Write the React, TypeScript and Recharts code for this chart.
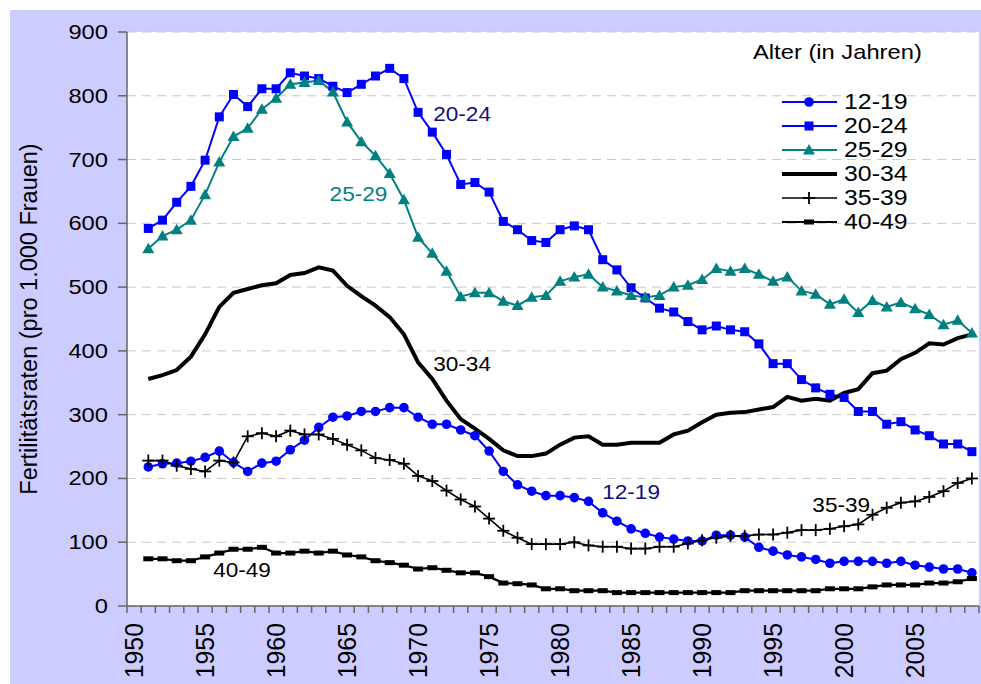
import React from "react";
import { LineChart, Line, XAxis, YAxis, CartesianGrid, ReferenceDot } from "recharts";

const FONT = '"Liberation Sans", Arial, sans-serif';

const YEARS = [
  1951, 1952, 1953, 1954, 1955, 1956, 1957, 1958, 1959, 1960,
  1961, 1962, 1963, 1964, 1965, 1966, 1967, 1968, 1969, 1970,
  1971, 1972, 1973, 1974, 1975, 1976, 1977, 1978, 1979, 1980,
  1981, 1982, 1983, 1984, 1985, 1986, 1987, 1988, 1989, 1990,
  1991, 1992, 1993, 1994, 1995, 1996, 1997, 1998, 1999, 2000,
  2001, 2002, 2003, 2004, 2005, 2006, 2007, 2008, 2009,
];

const AGE_12_19 = [
  218, 223, 224, 227, 233, 243, 225, 211, 224, 227,
  245, 260, 280, 296, 298, 305, 305, 311, 311, 296,
  285, 285, 276, 267, 243, 211, 190, 180, 173, 173,
  170, 164, 146, 133, 121, 114, 108, 105, 102, 102,
  111, 111, 108, 92, 86, 80, 77, 73, 67, 70,
  70, 70, 67, 70, 64, 61, 58, 58, 52,
];

const AGE_20_24 = [
  592, 605, 633, 658, 699, 767, 802, 783, 811, 811,
  836, 831, 827, 815, 805, 818, 831, 843, 827, 774,
  743, 708, 661, 664, 649, 603, 590, 573, 570, 590,
  596, 590, 543, 527, 499, 483, 467, 461, 446, 433,
  439, 433, 430, 411, 380, 380, 355, 342, 332, 327,
  305, 305, 285, 289, 276, 267, 254, 254, 242,
];

const AGE_25_29 = [
  560, 580, 590, 605, 645, 696, 736, 749, 779, 796,
  818, 821, 824, 806, 759, 728, 706, 678, 637, 578,
  553, 525, 485, 491, 491, 478, 471, 484, 487, 509,
  516, 520, 500, 494, 487, 484, 487, 500, 503, 512,
  529, 525, 529, 520, 509, 516, 494, 489, 473, 481,
  460, 479, 469, 476, 466, 457, 441, 448, 428,
];

const AGE_30_34 = [
  356, 362, 370, 391, 426, 469, 491, 497, 503, 506,
  519, 522, 531, 526, 502, 486, 471, 453, 426, 382,
  356, 322, 293, 278, 262, 244, 235, 235, 239, 253,
  264, 266, 253, 253, 256, 256, 256, 269, 275, 288,
  300, 303, 304, 308, 312, 328, 322, 325, 322, 334,
  340, 365, 369, 387, 397, 412, 410, 420, 426,
];

const AGE_35_39 = [
  228, 228, 220, 215, 211, 228, 225, 266, 271, 266,
  275, 269, 269, 262, 253, 244, 232, 229, 223, 204,
  196, 181, 167, 156, 137, 118, 107, 97, 97, 97,
  100, 95, 93, 93, 90, 90, 93, 93, 98, 103,
  107, 110, 110, 112, 112, 115, 119, 119, 121, 125,
  128, 143, 154, 162, 164, 171, 180, 193, 200,
];

const AGE_40_49 = [
  74, 74, 71, 71, 77, 83, 89, 89, 92, 83,
  83, 86, 83, 86, 80, 77, 71, 68, 64, 58,
  60, 56, 52, 52, 46, 36, 35, 33, 27, 27,
  24, 24, 24, 21, 21, 21, 21, 21, 21, 21,
  21, 21, 24, 24, 24, 24, 24, 24, 27, 27,
  27, 30, 33, 33, 33, 36, 36, 38, 43,
];

const LABEL_YEARS = [1950, 1955, 1960, 1965, 1970, 1975, 1980, 1985, 1990, 1995, 2000, 2005];
const Y_TICKS = [0, 100, 200, 300, 400, 500, 600, 700, 800, 900];

const SERIES = [
  { key: "a1219", name: "12-19", values: AGE_12_19, color: "#0000ff", width: 2, marker: "circle" },
  { key: "a2024", name: "20-24", values: AGE_20_24, color: "#0000ff", width: 2, marker: "square" },
  { key: "a2529", name: "25-29", values: AGE_25_29, color: "#008080", width: 2, marker: "triangle" },
  { key: "a3034", name: "30-34", values: AGE_30_34, color: "#000000", width: 4, marker: "none" },
  { key: "a3539", name: "35-39", values: AGE_35_39, color: "#000000", width: 1.6, marker: "plus" },
  { key: "a4049", name: "40-49", values: AGE_40_49, color: "#000000", width: 2.2, marker: "dash" },
];

// in-chart series names, anchored in data space (year, value)
const NOTES = [
  { text: "20-24", year: 1973.1, value: 770, color: "#10107a" },
  { text: "25-29", year: 1965.8, value: 645, color: "#008080" },
  { text: "30-34", year: 1973.1, value: 378, color: "#000000" },
  { text: "12-19", year: 1985.0, value: 178, color: "#10107a" },
  { text: "35-39", year: 1999.8, value: 157, color: "#000000" },
  { text: "40-49", year: 1957.6, value: 55, color: "#000000" },
];

const STRETCH = 1.13; // the original's text is a bit wider than plain Arial

const data = YEARS.map((year, i) => {
  const row: any = { year };
  SERIES.forEach((s) => {
    row[s.key] = s.values[i];
  });
  return row;
});

const X_TICKS: number[] = [];
for (let t = 1949.5; t <= 2009.5; t += 0.5) X_TICKS.push(t);

function Marker({ kind, cx, cy, color }: { kind: string; cx: number; cy: number; color: string }) {
  if (kind === "circle") return <circle cx={cx} cy={cy} r={4.8} fill={color} />;
  if (kind === "square") return <rect x={cx - 4.5} y={cy - 4.5} width={9} height={9} fill={color} />;
  if (kind === "triangle")
    return <polygon points={`${cx},${cy - 6} ${cx + 6},${cy + 4.5} ${cx - 6},${cy + 4.5}`} fill={color} />;
  if (kind === "plus")
    return (
      <g stroke={color} strokeWidth={1.8}>
        <line x1={cx - 6} x2={cx + 6} y1={cy} y2={cy} />
        <line x1={cx} x2={cx} y1={cy - 6} y2={cy + 6} />
      </g>
    );
  if (kind === "dash") return <rect x={cx - 5} y={cy - 2.5} width={10} height={5} fill={color} />;
  return <g />;
}

const XTick = (props: any) => {
  const { x, y, payload } = props;
  const v = payload.value;
  if (v % 1 !== 0) {
    return <line x1={x} x2={x} y1={y} y2={y + 7} stroke="#666" strokeWidth={1.5} />;
  }
  if (LABEL_YEARS.includes(v)) {
    return (
      <text
        transform={`translate(${x},${y + 17}) rotate(-90) scale(1.08,1.12)`}
        textAnchor="end"
        dominantBaseline="central"
        fontSize={23}
        fontFamily={FONT}
        fill="#000"
      >
        {v}
      </text>
    );
  }
  return <g />;
};

const YTick = (props: any) => {
  const { x, y, payload } = props;
  return (
    <text
      transform={`translate(${x},${y}) scale(${STRETCH},1)`}
      textAnchor="end"
      dominantBaseline="central"
      fontSize={21}
      fontFamily={FONT}
      fill="#000"
    >
      {payload.value}
    </text>
  );
};

const NoteLabel = (text: string, color: string) => (props: any) => {
  const vb = props.viewBox || {};
  const cx = vb.x + (vb.width || 0) / 2;
  const cy = vb.y + (vb.height || 0) / 2;
  return (
    <text
      transform={`translate(${cx},${cy}) scale(${STRETCH},1)`}
      textAnchor="middle"
      dominantBaseline="central"
      fontSize={20}
      fontFamily={FONT}
      fill={color}
    >
      {text}
    </text>
  );
};

function LegendBox() {
  const stretch = { display: "inline-block", transform: `scaleX(${STRETCH})`, transformOrigin: "left center" };
  return (
    <div style={{ position: "absolute", left: 0, top: 0, fontFamily: FONT, color: "#000" }}>
      <div
        style={{
          position: "absolute",
          left: 753,
          top: 38,
          fontSize: 21,
          lineHeight: "28px",
          whiteSpace: "nowrap",
        }}
      >
        <span style={stretch}>Alter (in Jahren)</span>
      </div>
      {SERIES.map((s, i) => (
        <div
          key={s.key}
          style={{
            position: "absolute",
            left: 782,
            top: 90 + i * 24,
            height: 24,
            display: "flex",
            alignItems: "center",
            whiteSpace: "nowrap",
          }}
        >
          <svg width={55} height={24}>
            <line x1={0} x2={55} y1={12} y2={12} stroke={s.color} strokeWidth={s.width} />
            <Marker kind={s.marker} cx={27} cy={12} color={s.color} />
          </svg>
          <span style={{ marginLeft: 7, fontSize: 22, lineHeight: "24px", ...stretch }}>{s.name}</span>
        </div>
      ))}
    </div>
  );
}

export default function App() {
  return (
    <div style={{ position: "relative", width: 981, height: 684, background: "#fff", overflow: "hidden" }}>
      <style>{`body{margin:0}`}</style>
      <div style={{ position: "absolute", left: 10, top: 10, right: 0, bottom: 0, background: "#ccccff" }} />
      <div style={{ position: "absolute", left: 0, top: 0 }}>
        <LineChart width={981} height={684} data={data} margin={{ top: 32, right: 2, bottom: 0, left: 10 }}>
          <CartesianGrid vertical={false} stroke="#c8c8c8" strokeDasharray="9 6" fill="#ffffff" fillOpacity={1} />
          <XAxis
            dataKey="year"
            type="number"
            domain={[1949.5, 2009.5]}
            ticks={[...X_TICKS]}
            interval={0}
            height={78}
            tickLine={false}
            tickSize={0}
            tickMargin={0}
            axisLine={{ stroke: "#666", strokeWidth: 1.5 }}
            tick={XTick}
          />
          <YAxis
            type="number"
            domain={[0, 900]}
            ticks={Y_TICKS}
            interval={0}
            width={117}
            tickSize={9}
            tickMargin={10}
            axisLine={{ stroke: "#666", strokeWidth: 1.5 }}
            tickLine={{ stroke: "#666", strokeWidth: 1.5 }}
            tick={YTick}
            label={{
              value: "Fertilitätsraten (pro 1.000 Frauen)",
              angle: -90,
              position: "insideLeft",
              offset: 19,
              fill: "#000",
              fontSize: 23.5,
              fontFamily: FONT,
              style: { textAnchor: "middle" },
            }}
          />
          {SERIES.map((s) => (
            <Line
              key={s.key}
              dataKey={s.key}
              name={s.name}
              stroke={s.color}
              strokeWidth={s.width}
              isAnimationActive={false}
              activeDot={false}
              dot={(p: any) => <Marker key={`${s.key}-${p.index}`} kind={s.marker} cx={p.cx} cy={p.cy} color={s.color} />}
            />
          ))}
          {NOTES.map((n) => (
            <ReferenceDot
              key={n.text}
              x={n.year}
              y={n.value}
              r={1}
              fill="none"
              stroke="none"
              label={NoteLabel(n.text, n.color)}
            />
          ))}
        </LineChart>
      </div>
      <LegendBox />
    </div>
  );
}
